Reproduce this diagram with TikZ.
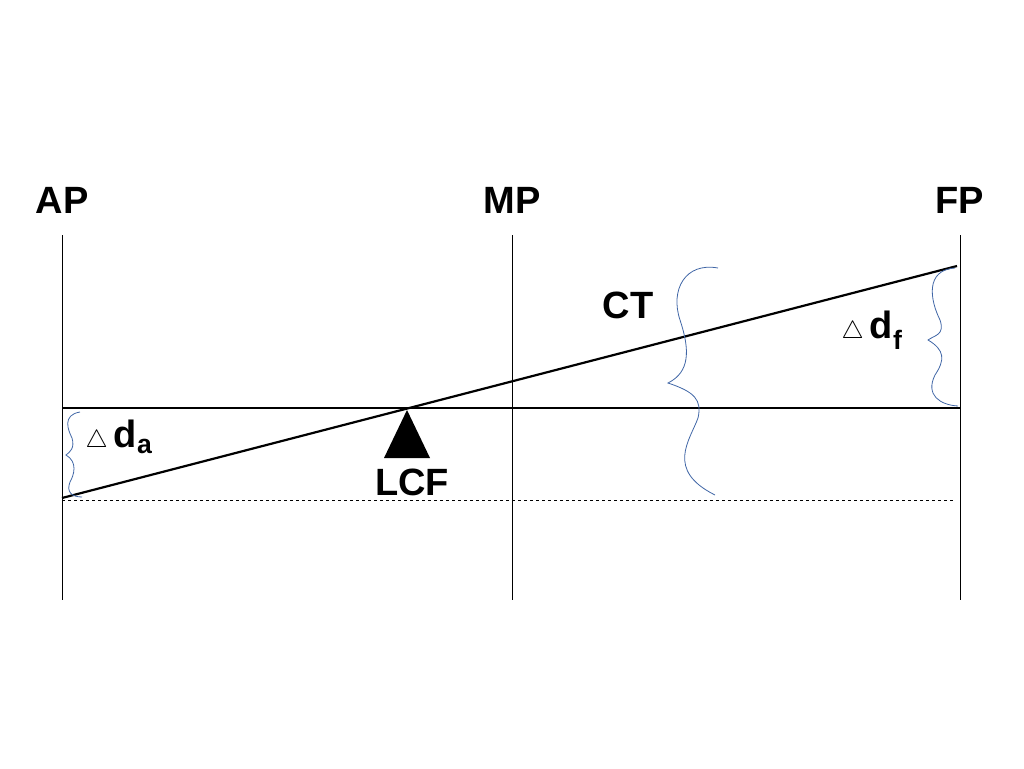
\documentclass[tikz,border=0pt]{standalone}
\usepackage{fontspec}
\setmainfont{Liberation Sans}
\usepackage{amssymb}
\definecolor{bracecol}{rgb}{0.25,0.4,0.65}

\begin{document}
\begin{tikzpicture}[x=1pt,y=-1pt,
	lbl/.style={font=\fontsize{38}{40}\selectfont\bfseries},
	brace/.style={bracecol,line width=0.8pt}]
	\useasboundingbox (0,0) rectangle (1024,768);
	%perpendiculars
	\foreach \n/\x in {AP/62,MP/512,FP/960}{
		\coordinate (\n top) at (\x,235);
		\coordinate (\n bot) at (\x,600);
		\draw[line width=1pt] (\n top) -- (\n bot);
		\node[lbl] (\n) at (\x,200) {\n};
	}
	%waterlines
	\coordinate (wla) at (62,408);
	\coordinate (wlf) at (960,408);
	\draw[line width=2.2pt] (wla) -- (wlf);
	\coordinate (tra) at (62,498);
	\coordinate (trf) at (957,266);
	\draw[line width=2.2pt] (tra) -- (trf);
	\draw[dashed,line width=0.8pt] (62,500) -- (955,500);

	%floatation centre
	\fill (407,410) -- (430,458) -- (384,458) -- cycle;
	\node[lbl] (LCF) at (412,482) {LCF};
	\node[lbl] (CT) at (628,305) {CT};
	\node[lbl,anchor=west] (df) at (838,330) {$\bigtriangleup$\,d\textsubscript{f}};
	\node[lbl,anchor=west] (da) at (82,437) {$\bigtriangleup$\,d\textsubscript{a}};

	%braces
	\draw[brace] (718,268) .. controls (685,262) and (670,290) .. (680,320)
		.. controls (690,350) and (690,372) .. (668,383)
		.. controls (695,392) and (702,400) .. (698,418)
		.. controls (690,440) and (665,470) .. (715,495);
	\draw[brace] (955,268) .. controls (925,270) and (930,300) .. (940,320)
		.. controls (945,335) and (935,335) .. (928,340)
		.. controls (945,350) and (945,360) .. (935,375)
		.. controls (925,395) and (940,405) .. (958,406);
	\draw[brace] (80,412) .. controls (62,415) and (68,430) .. (72,438)
		.. controls (75,448) and (70,452) .. (66,455)
		.. controls (78,462) and (74,475) .. (70,482)
		.. controls (66,492) and (72,497) .. (82,497);
\end{tikzpicture}
\end{document}
